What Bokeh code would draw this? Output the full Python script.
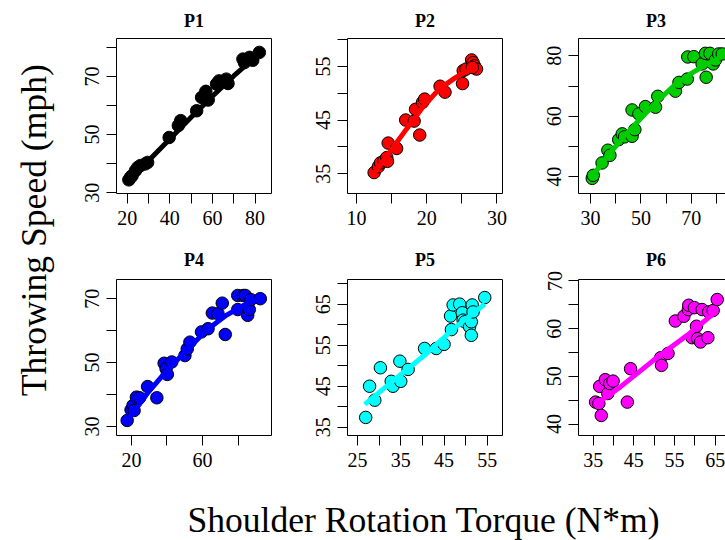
from bokeh.plotting import figure
from bokeh.models import Range1d, FixedTicker, LinearAxis, Label
from bokeh.layouts import row, column
from bokeh.embed import file_html
from bokeh.resources import INLINE

FONT = "Liberation Serif"

# ---------------- data ----------------
titles = ["P1", "P2", "P3", "P4", "P5", "P6"]
colors = ["black", "#FF0000", "#00CD00", "#0000FF", "#00FFFF", "#FF00FF"]

p1_x = [20.8, 21.6, 22.3, 23.9, 25.0, 26.2, 28.5, 29.6, 39.7, 44.0, 45.1, 52.6,
        54.9, 56.9, 58.0, 61.9, 63.1, 66.5, 67.3, 74.3, 75.0, 77.4, 78.9, 82.0]
p1_y = [34.4, 35.3, 35.8, 37.6, 38.7, 39.3, 39.9, 40.4, 49.0, 53.1, 54.8, 58.2,
        62.8, 64.9, 61.9, 67.4, 68.5, 69.1, 67.6, 76.0, 74.8, 76.6, 75.6, 78.3]
p1_fx = [21, 30, 40, 50, 60, 70, 82]
p1_fy = [34.6, 41.0, 48.5, 56.0, 63.2, 70.2, 78.0]

p2_x = [12.5, 13.1, 13.4, 13.9, 14.3, 14.4, 14.5, 15.7, 17.0, 18.2, 18.4, 19.0,
        19.4, 19.7, 21.9, 22.6, 25.1, 25.2, 25.6, 26.4, 26.6, 26.8, 27.1, 26.5]
p2_y = [35.2, 36.3, 37.0, 37.4, 38.0, 37.3, 40.7, 39.7, 45.0, 44.8, 47.0, 42.2,
        48.3, 48.9, 51.3, 50.2, 51.8, 54.2, 54.5, 56.2, 55.7, 55.1, 54.5, 54.8]
p2_fx = [12.5, 14.7, 17.1, 19.5, 21.8, 24.2, 27.1]
p2_fy = [35.1, 39.0, 43.3, 47.5, 50.8, 53.0, 55.1]

p3_x = [30.7, 31.1, 34.6, 36.9, 37.7, 41.2, 42.6, 43.5, 46.5, 46.5, 47.6, 49.2,
        51.8, 55.8, 56.7, 63.7, 65.1, 68.4, 68.6, 71.0, 74.3, 75.9, 75.6, 77.4,
        78.7, 79.6, 80.9, 82.3]
p3_y = [39.5, 40.5, 44.6, 48.8, 47.1, 52.3, 54.2, 53.2, 62.1, 53.4, 55.6, 60.8,
        63.2, 63.0, 66.6, 68.3, 71.2, 72.3, 79.6, 79.7, 77.3, 72.9, 80.8, 80.8,
        77.3, 78.6, 80.6, 80.6]
p3_fx = [30.7, 36.6, 43.2, 49.8, 56.5, 63.1, 69.7, 76.3, 81.6, 84.0]
p3_fy = [40.2, 46.8, 53.2, 59.2, 65.0, 70.1, 74.0, 77.3, 79.5, 81.0]

p4_x = [17.6, 19.8, 20.9, 21.5, 22.8, 24.6, 29.1, 34.3, 38.4, 39.5, 40.2, 42.7,
        50.1, 51.4, 52.9, 59.4, 63.1, 65.5, 68.7, 71.1, 72.8, 79.8, 79.8, 83.0,
        84.1, 85.4, 86.3, 87.2, 92.5]
p4_y = [31.9, 35.2, 36.6, 35.0, 39.2, 39.0, 42.5, 39.0, 49.8, 48.1, 46.3, 50.2,
        52.2, 54.3, 56.4, 59.6, 60.6, 65.5, 65.3, 68.6, 58.8, 71.0, 66.6, 71.0,
        71.0, 64.8, 66.6, 69.7, 70.0]
p4_fx = [18.5, 28.7, 39.9, 51.0, 62.2, 73.3, 84.5, 92.0]
p4_fy = [32.4, 40.2, 47.5, 53.8, 60.1, 64.8, 68.4, 70.2]

p5_x = [26.9, 27.8, 29.0, 30.3, 32.8, 33.2, 34.8, 35.0, 36.7, 40.5, 43.2, 45.0,
        46.5, 46.7, 47.1, 48.6, 49.2, 49.4, 49.8, 50.9, 51.3, 51.3, 51.5, 51.7, 54.4]
p5_y = [37.4, 45.0, 41.6, 49.5, 46.2, 45.0, 51.1, 46.2, 49.1, 54.2, 54.2, 55.2,
        62.1, 58.8, 64.8, 65.0, 62.9, 61.1, 60.7, 59.5, 60.7, 57.4, 64.8, 63.1, 66.6]
p5_fx = [26.7, 32.5, 40.2, 47.8, 54.4]
p5_fy = [40.6, 45.7, 52.3, 59.5, 65.0]

p6_x = [35.6, 36.4, 36.6, 37.0, 38.0, 38.6, 39.1, 39.9, 43.4, 44.2, 51.6, 51.8,
        53.4, 55.2, 57.3, 58.4, 58.5, 59.3, 59.9, 60.4, 60.7, 61.4, 61.8, 63.2,
        63.4, 64.5, 65.5]
p6_y = [44.6, 44.3, 47.9, 41.8, 49.3, 46.4, 48.5, 49.0, 44.6, 51.6, 53.9, 52.3,
        54.8, 61.6, 62.6, 64.0, 64.9, 58.1, 64.4, 60.5, 57.9, 57.2, 64.0, 58.1,
        63.5, 63.8, 66.1]
p6_fx = [35.6, 41.7, 49.9, 58.1, 65.5]
p6_fy = [44.1, 47.8, 53.4, 58.6, 63.8]

xs_all = [p1_x, p2_x, p3_x, p4_x, p5_x, p6_x]
ys_all = [p1_y, p2_y, p3_y, p4_y, p5_y, p6_y]
fx_all = [p1_fx, p2_fx, p3_fx, p4_fx, p5_fx, p6_fx]
fy_all = [p1_fy, p2_fy, p3_fy, p4_fy, p5_fy, p6_fy]

# axis limits (the right column is cut by the picture's edge)
x_lims = [(15.0, 87.7), (8.7, 30.8), (25.24, 83.57), (11.6, 98.8), (22.7, 58.5), (31.4, 67.53)]
y_lims = [(29.7, 83.1), (31.3, 60.2), (34.5, 85.7), (27.2, 76.0), (33.0, 71.0), (37.6, 70.3)]

x_major = [[20, 40, 60, 80], [10, 20, 30], [30, 50, 70, 90], [20, 60], [25, 35, 45, 55], [35, 45, 55, 65]]
x_minor = [[30, 50, 70], [15, 25], [40, 60, 80], [40, 80], [30, 40, 50], [40, 50, 60]]
y_major = [[30, 50, 70], [35, 45, 55], [40, 60, 80], [30, 50, 70], [35, 45, 55, 65], [40, 50, 60, 70]]
y_minor = [[40, 60, 80], [40, 50, 60], [50, 70], [40, 60], [40, 50, 60, 70], [45, 55, 65]]

x_title = "Shoulder Rotation Torque (N*m)"
y_title = "Throwing Speed (mph)"

# ---------------- layout ----------------
TOTAL_W = 725
TOTAL_H = 540
W_YL = 66          # left strip holding the y title
BL = 50            # left border of each panel
BOX = 155          # panel box width
CELL = 231         # panel pitch
W_LAST = TOTAL_W - W_YL - 2 * CELL
STRIPS = [30, 28]  # title strips above each row
PT = [8, 10]       # panel top border per row
PB = [48, 50]      # panel bottom border per row
FRAME_H = [155, 156]
TITLE_Y = [10, 9.4]
XL_H = TOTAL_H - (sum(STRIPS) + sum(PT) + sum(PB) + sum(FRAME_H))


def make_panel(i, width, r, right, open_right):
    frame_h = FRAME_H[r]
    p = figure(width=width, height=PT[r] + frame_h + PB[r],
               x_range=Range1d(*x_lims[i]), y_range=Range1d(*y_lims[i]),
               output_backend="svg", toolbar_location=None,
               min_border_left=BL, min_border_right=right,
               min_border_top=PT[r], min_border_bottom=PB[r])
    p.grid.visible = False
    p.outline_line_color = None if open_right else "black"
    p.outline_line_width = 1
    for ax, maj, mnr in ((p.xaxis[0], x_major[i], x_minor[i]),
                         (p.yaxis[0], y_major[i], y_minor[i])):
        ax.ticker = FixedTicker(ticks=maj, minor_ticks=mnr)
        ax.major_tick_out = 10
        ax.major_tick_in = 0
        ax.minor_tick_out = 10
        ax.minor_tick_in = 0
        ax.major_tick_line_color = "black"
        ax.minor_tick_line_color = "black"
        ax.axis_line_color = "black" if open_right else None
        ax.major_label_text_font = FONT
        ax.major_label_text_font_size = "20px"
        ax.major_label_text_color = "black"
        ax.major_label_standoff = 7
    p.yaxis[0].major_label_orientation = "vertical"
    if open_right:
        top_ax = LinearAxis(ticker=FixedTicker(ticks=[]), major_label_text_font_size="0px",
                            axis_line_color="black", major_tick_out=0, minor_tick_out=0,
                            major_label_standoff=0)
        p.add_layout(top_ax, "above")
    p.scatter(xs_all[i], ys_all[i], size=12.5, fill_color=colors[i],
              line_color="black", line_width=1)
    p.line(fx_all[i], fy_all[i], line_color=colors[i], line_width=5)
    return p


def label_fig(w, h):
    f = figure(width=w, height=h, x_range=Range1d(0, w), y_range=Range1d(0, h),
               output_backend="svg", toolbar_location=None, min_border=0,
               x_axis_location=None, y_axis_location=None)
    f.grid.visible = False
    f.outline_line_color = None
    return f


def title_strip(h, names, base_from_bottom):
    f = label_fig(TOTAL_W - W_YL, h)
    for c, name in enumerate(names):
        f.add_layout(Label(x=c * CELL + BL + BOX / 2, y=base_from_bottom, text=name,
                           text_font=FONT, text_font_style="bold", text_font_size="18px",
                           text_align="center", text_baseline="alphabetic",
                           text_color="black"))
    return f


panels = []
for i in range(6):
    col = i % 3
    r = i // 3
    if col < 2:
        panels.append(make_panel(i, CELL, r, CELL - BL - BOX, False))
    else:
        panels.append(make_panel(i, W_LAST, r, 0, True))

strip1 = title_strip(STRIPS[0], titles[0:3], TITLE_Y[0])
strip2 = title_strip(STRIPS[1], titles[3:6], TITLE_Y[1])

grid = column(strip1, row(panels[0], panels[1], panels[2]),
              strip2, row(panels[3], panels[4], panels[5]))
GRID_H = TOTAL_H - XL_H

ylab = label_fig(W_YL, GRID_H)
ylab.add_layout(Label(x=33.4, y=GRID_H - 229.7, text=y_title, angle=90, angle_units="deg",
                      text_align="center", text_baseline="alphabetic", text_font=FONT,
                      text_font_size="35.6px", text_color="black"))

xlab = label_fig(TOTAL_W, XL_H)
xlab.add_layout(Label(x=423.3, y=20.5, text=x_title, text_align="center",
                      text_baseline="alphabetic", text_font=FONT,
                      text_font_size="35.6px", text_color="black"))

layout = column(row(ylab, grid), xlab)

open("out.html", "w").write(file_html(layout, INLINE))
